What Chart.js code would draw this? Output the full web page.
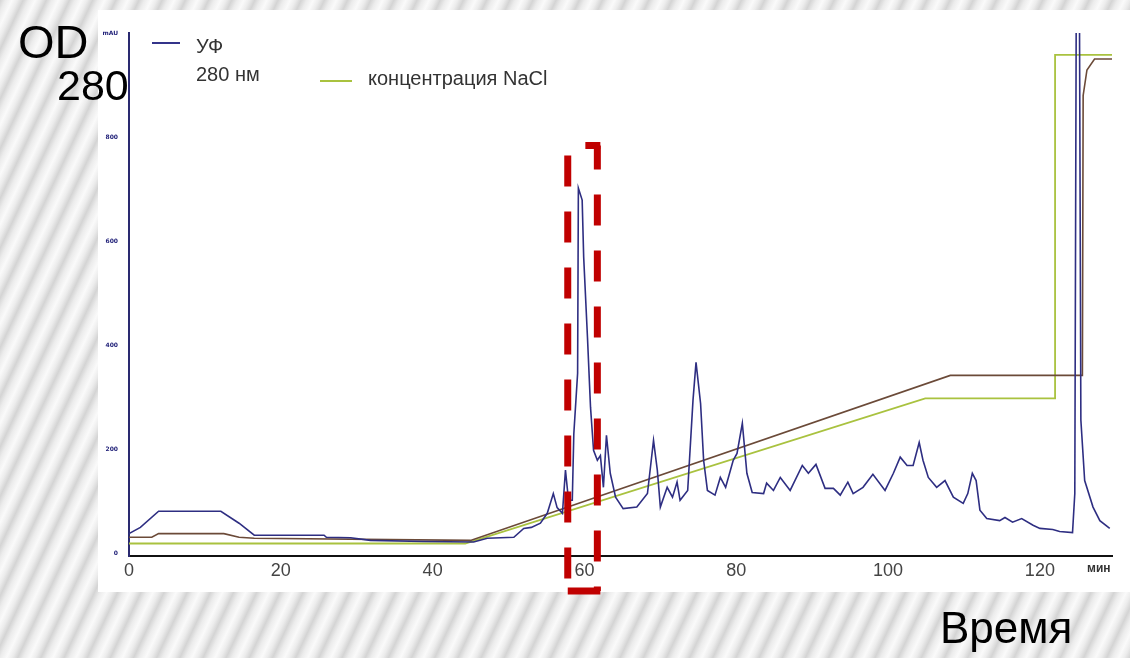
<!DOCTYPE html>
<html>
<head>
<meta charset="utf-8">
<script src="https://cdn.jsdelivr.net/npm/chart.js@4.4.0/dist/chart.umd.min.js"></script>
<style>
  body { margin: 0; width: 1130px; height: 658px; overflow: hidden; position: relative;
    background: repeating-linear-gradient(115deg, #d4d4d4 0px, #ececec 5px, #fafafa 11px, #ececec 16px, #d4d4d4 21px);
    font-family: "Liberation Sans", Arial, sans-serif; }
  #panel { position: absolute; left: 98px; top: 10px; width: 1032px; height: 582px; background: #fff; }
  #chart { position: absolute; left: 0; top: 0; }
  .txt { position: absolute; white-space: nowrap; color: #000; }
  .leg { position: absolute; white-space: nowrap; color: #333; font-size: 20px; }
  .legline { position: absolute; height: 2px; }
</style>
</head>
<body>
<div id="panel"></div>
<canvas id="chart" width="1130" height="658"></canvas>

<div class="legline" style="left:152px; top:42px; width:28px; background:#34348a;"></div>
<div class="leg" style="left:196px; top:35px;">УФ</div>
<div class="leg" style="left:196px; top:63px;">280 нм</div>
<div class="legline" style="left:320px; top:80px; width:32px; background:#a9c23f;"></div>
<div class="leg" style="left:368px; top:67px;">концентрация NaCl</div>

<div class="txt" style="left:1087px; top:561px; font-size:12px; font-weight:bold; color:#333;">мин</div>

<div class="txt" style="left:18px; top:14px; font-size:47px;">OD</div>
<div class="txt" style="left:57px; top:61px; font-size:43px;">280</div>
<div class="txt" style="left:940px; top:603px; font-size:44px;">Время</div>

<script>
// UV 280 nm trace (минуты, mAU)
const uvTime = [0, 1.5, 3.9, 8, 12.1, 14.5, 16.5, 25.7, 26, 29.2, 31.8, 38.8, 45.4, 47.2, 50.7, 52, 53, 54.2, 55.1, 55.9,
  56.4, 57.1, 57.5, 57.9, 58.4, 58.6, 59.1, 59.2, 59.7, 59.9, 60.4, 60.8, 61.2, 61.7, 62.1, 62.5, 62.9, 63.4, 64.1, 65.1,
  66.9, 68.3, 69.1, 69.6, 70.0, 70.9, 71.6, 72.2, 72.6, 73.6, 74.3, 74.7, 75.3, 75.7, 76.2, 77.2, 77.9, 78.6, 79.6, 80.1,
  80.8, 81.4, 82.1, 83.6, 84, 84.9, 85.8, 87.1, 88.7, 89.5, 90.5, 91.7, 92.8, 93.7, 94.7, 95.4, 96.7, 98, 99.6, 100.7,
  101.6, 102.5, 103.3, 104.1, 104.6, 105.3, 106.4, 107.5, 108.6, 109.9, 110.5, 111.1, 111.6, 112.1, 113, 114.7, 115.4, 116.4, 117.6, 119.1,
  120, 121.7, 122.6, 124.3, 124.6, 124.8, 125.2, 125.4, 125.9, 127, 127.9, 129.2];
const uvValue = [38, 50, 81, 81, 81, 58, 35, 35, 31, 30, 25, 23, 22, 29, 31, 48, 50, 58, 77, 115,
  88, 77, 160, 102, 102, 230, 346, 702, 679, 569, 415, 281, 198, 179, 188, 127, 227, 154, 108, 86,
  89, 115, 217, 160, 89, 127, 108, 137, 102, 121, 294, 367, 288, 179, 121, 112, 146, 127, 179, 192,
  250, 154, 117, 115, 135, 121, 146, 121, 169, 154, 171, 125, 125, 112, 137, 115, 127, 152, 121, 154,
  185, 169, 169, 213, 179, 146, 127, 140, 108, 96, 115, 154, 140, 83, 67, 63, 69, 60, 67, 54,
  48, 46, 42, 40, 115, 1100, 1100, 256, 140, 89, 63, 48];

// second (brown) trace
const brownTime = [0, 3, 3.9, 12.5, 14.5, 16.5, 45, 108.2, 125.6, 125.7, 126.2, 127.2, 129.5];
const brownValue = [31, 31, 38, 38, 31, 29, 25, 342, 342, 880, 929, 950, 950];

// концентрация NaCl
const naclTime = [0, 44.3, 104.9, 122, 122, 129.5];
const naclValue = [19, 19, 298, 298, 958, 958];

const xTicks = [0, 20, 40, 60, 80, 100, 120];
const yTicks = [0, 200, 400, 600, 800, 1000];

function toPoints(xs, ys) {
  return xs.map(function (x, i) { return {x: x, y: ys[i]}; });
}

// red dashed frame around the main peak
const frameBox = {
  id: 'frameBox',
  afterDatasetsDraw(chart) {
    const c = chart.ctx;
    const xs = chart.scales.x, ys = chart.scales.y;
    const xl = xs.getPixelForValue(57.8), xr = xs.getPixelForValue(61.7);
    const yt = ys.getPixelForValue(780), yb = chart.chartArea.bottom + 35;
    c.save();
    c.strokeStyle = '#c00000';
    c.lineWidth = 7;
    c.setLineDash([31, 25]);
    c.lineDashOffset = 7;
    c.beginPath(); c.moveTo(xr, yt - 2); c.lineTo(xr, yb); c.stroke();
    c.lineDashOffset = 0;
    c.beginPath(); c.moveTo(xl, yt + 8); c.lineTo(xl, yb - 10); c.stroke();
    c.setLineDash([]);
    c.beginPath(); c.moveTo(xr + 3, yt - 2); c.lineTo(xr - 12, yt - 2); c.stroke();
    c.beginPath(); c.moveTo(xl, yb); c.lineTo(xr + 3, yb); c.stroke();
    c.restore();
  }
};

new Chart(document.getElementById('chart'), {
  type: 'line',
  data: {
    datasets: [
      { label: 'УФ 280 нм', data: toPoints(uvTime, uvValue), borderColor: '#2e2e82', borderWidth: 1.6 },
      { label: 'brown', data: toPoints(brownTime, brownValue), borderColor: '#6b4a38', borderWidth: 1.6 },
      { label: 'концентрация NaCl', data: toPoints(naclTime, naclValue), borderColor: '#a9c23f', borderWidth: 1.8 }
    ]
  },
  options: {
    responsive: false,
    animation: false,
    elements: { point: { radius: 0 }, line: { tension: 0 } },
    layout: { padding: { left: 0, top: 33, right: 18, bottom: 0 } },
    plugins: { legend: { display: false }, tooltip: { enabled: false } },
    scales: {
      x: {
        type: 'linear', min: 0, max: 129.5,
        afterFit: function (s) { s.height = 102; },
        grid: { display: false, drawTicks: false },
        border: { display: true, color: '#111', width: 2 },
        afterBuildTicks: function (s) { s.ticks = xTicks.map(function (v) { return {value: v}; }); },
        ticks: { padding: 4, color: '#444', font: { family: 'Liberation Sans', size: 18 } }
      },
      y: {
        min: -5, max: 1000,
        afterFit: function (s) { s.width = 129; },
        grid: { display: false, drawTicks: false },
        border: { display: true, color: '#2a2a70', width: 2 },
        afterBuildTicks: function (s) { s.ticks = yTicks.map(function (v) { return {value: v}; }); },
        ticks: {
          padding: 11, color: '#23237a',
          font: { family: 'DejaVu Sans', size: 6, weight: 'bold' },
          callback: function (v) { return v === 1000 ? 'mAU' : v; }
        }
      }
    }
  },
  plugins: [frameBox]
});
</script>
</body>
</html>
